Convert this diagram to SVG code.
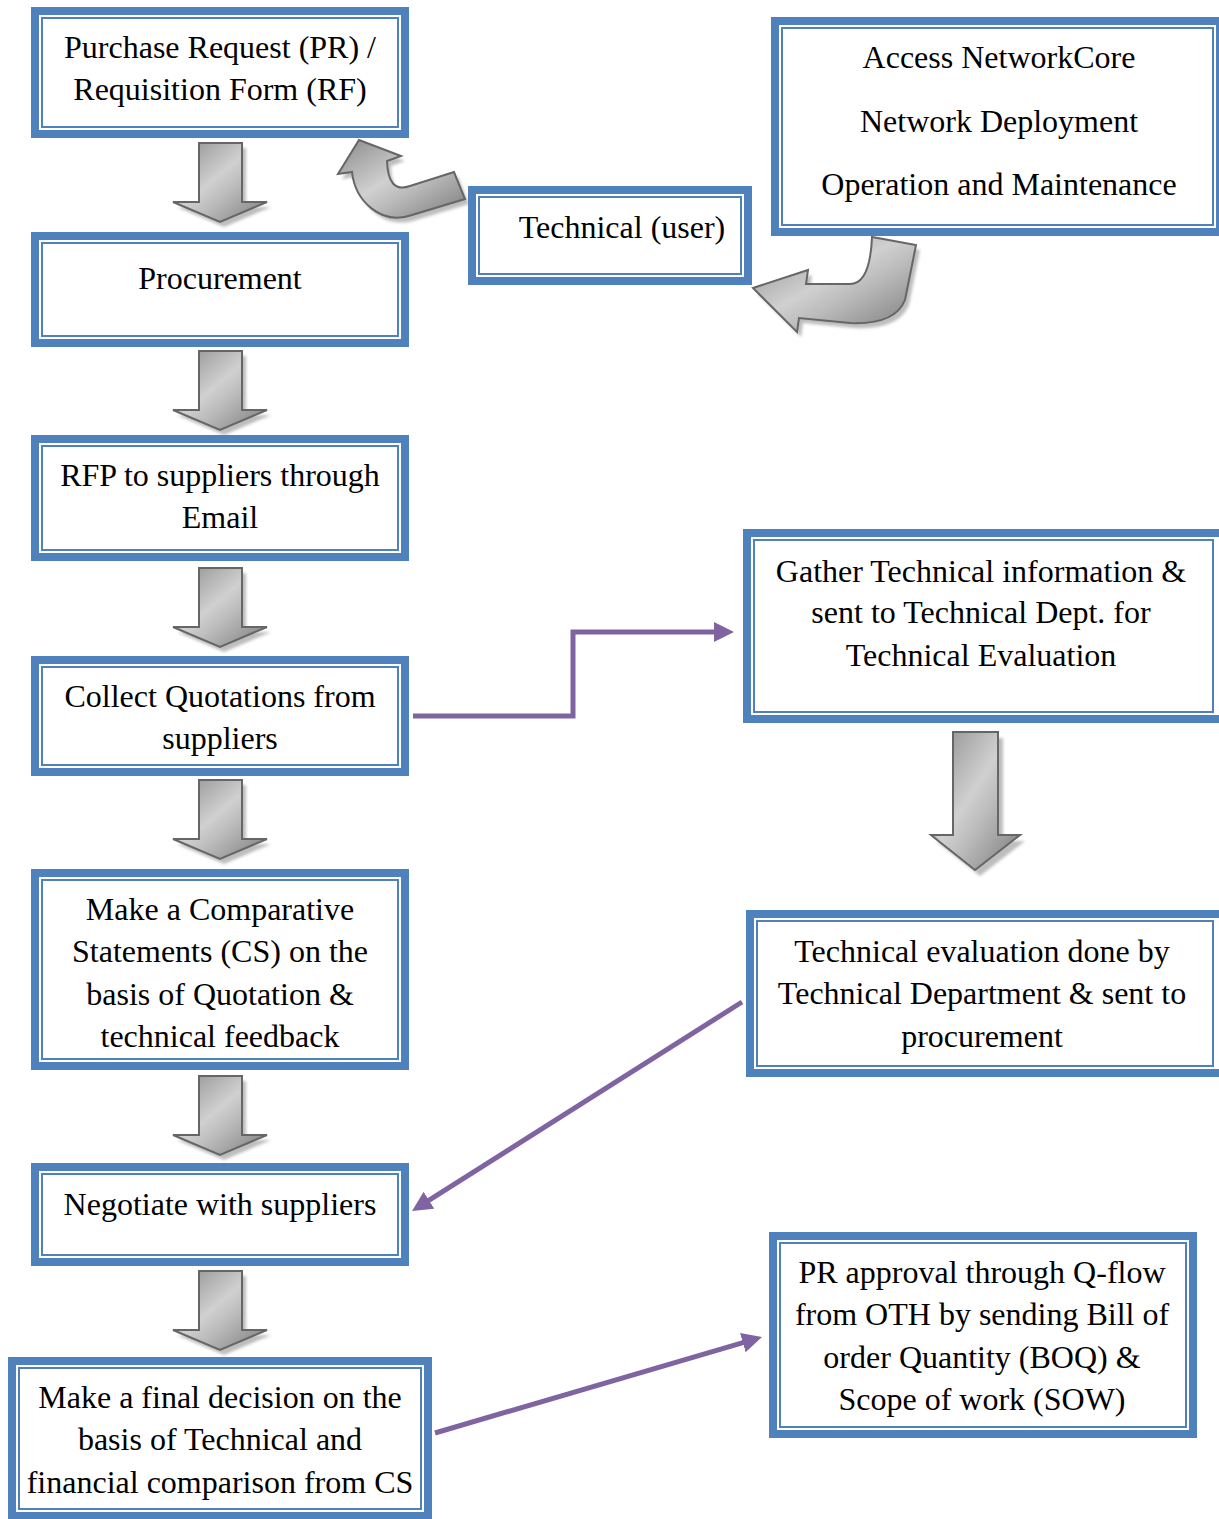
<svg xmlns="http://www.w3.org/2000/svg" width="1219" height="1519" viewBox="0 0 1219 1519">
<style>
.outer{fill:#fff;stroke:#4f81bd;stroke-width:8}
.inner{fill:none;stroke:#4f81bd;stroke-width:2}
.t{font-family:"Liberation Serif","Times New Roman",serif;font-size:32px;fill:#000;text-anchor:middle}
.blk{fill:url(#gg);stroke:#666;stroke-width:2;stroke-linejoin:miter}
.shd{fill:#bdbdbd;filter:url(#blur)}
.con{fill:none;stroke:#8064a2;stroke-width:5}
</style>
<defs>
<linearGradient id="gg" x1="0" y1="0" x2="1" y2="1">
<stop offset="0" stop-color="#8a8a8a"/>
<stop offset="0.45" stop-color="#d0d0d0"/>
<stop offset="0.6" stop-color="#bcbcbc"/>
<stop offset="1" stop-color="#7a7a7a"/>
</linearGradient>
<filter id="blur" x="-20%" y="-20%" width="140%" height="140%"><feGaussianBlur stdDeviation="1.5"/></filter>
<path id="dn" d="M199,0 H242 V59 H267 L220,79 L173,59 H199 Z"/>
<marker id="ah" viewBox="0 0 4 4" markerWidth="4" markerHeight="4" refX="2" refY="2" orient="auto">
<path d="M0,0 L4,2 L0,4 Z" fill="#8064a2"/>
</marker>
</defs>

<g id="block-arrows">
<g transform="translate(0,143)"><use href="#dn" class="shd" transform="translate(4,5)"/><use href="#dn" class="blk"/></g>
<g transform="translate(0,351)"><use href="#dn" class="shd" transform="translate(4,5)"/><use href="#dn" class="blk"/></g>
<g transform="translate(0,568)"><use href="#dn" class="shd" transform="translate(4,5)"/><use href="#dn" class="blk"/></g>
<g transform="translate(0,780)"><use href="#dn" class="shd" transform="translate(4,5)"/><use href="#dn" class="blk"/></g>
<g transform="translate(0,1076)"><use href="#dn" class="shd" transform="translate(4,5)"/><use href="#dn" class="blk"/></g>
<g transform="translate(0,1271)"><use href="#dn" class="shd" transform="translate(4,5)"/><use href="#dn" class="blk"/></g>
<path class="shd" transform="translate(5,6)" d="M953,732 H998 V835 H1020 L975,870 L931,835 H953 Z"/>
<path class="blk" d="M953,732 H998 V835 H1020 L975,870 L931,835 H953 Z"/>
<path class="shd" transform="translate(4,5)" d="M359,140 L401,156 L387,161 Q388,194 410,186 L454,172 L465,199 L412,215 C380,226 355,200 352,172 L338,174 Z"/>
<path class="blk" d="M359,140 L401,156 L387,161 Q388,194 410,186 L454,172 L465,199 L412,215 C380,226 355,200 352,172 L338,174 Z"/>
<path class="shd" transform="translate(4,5)" d="M753,288 L808,270 L806,284 L850,284 Q870,284 872,237 L916,245 L905,300 Q895,325 850,323 L799,318 L797,332 Z"/>
<path class="blk" d="M753,288 L808,270 L806,284 L850,284 Q870,284 872,237 L916,245 L905,300 Q895,325 850,323 L799,318 L797,332 Z"/>
</g>

<g id="connectors">
<polyline class="con" points="413,716 573,716 573,632 724,632" marker-end="url(#ah)"/>
<line class="con" x1="742" y1="1002" x2="420.5" y2="1205.6" marker-end="url(#ah)"/>
<line class="con" x1="435" y1="1433" x2="752.4" y2="1339.8" marker-end="url(#ah)"/>
</g>

<g id="n-pr"><rect class="outer" x="35" y="11" width="370" height="123"/><rect class="inner" x="42" y="18" width="356" height="109"/>
<text class="t" x="220" y="58">Purchase Request (PR) /</text><text class="t" x="220" y="100">Requisition Form (RF)</text></g>

<g id="n-procurement"><rect class="outer" x="35" y="236" width="370" height="107"/><rect class="inner" x="42" y="243" width="356" height="93"/>
<text class="t" x="220" y="289">Procurement</text></g>

<g id="n-rfp"><rect class="outer" x="35" y="439" width="370" height="118"/><rect class="inner" x="42" y="446" width="356" height="104"/>
<text class="t" x="220" y="486">RFP to suppliers through</text><text class="t" x="220" y="528">Email</text></g>

<g id="n-collect"><rect class="outer" x="35" y="660" width="370" height="112"/><rect class="inner" x="42" y="667" width="356" height="98"/>
<text class="t" x="220" y="707">Collect Quotations from</text><text class="t" x="220" y="749">suppliers</text></g>

<g id="n-cs"><rect class="outer" x="35" y="873" width="370" height="193"/><rect class="inner" x="42" y="880" width="356" height="179"/>
<text class="t" x="220" y="920">Make a Comparative</text><text class="t" x="220" y="962">Statements (CS) on the</text><text class="t" x="220" y="1005">basis of Quotation &amp;</text><text class="t" x="220" y="1047">technical feedback</text></g>

<g id="n-negotiate"><rect class="outer" x="35" y="1167" width="370" height="95"/><rect class="inner" x="42" y="1174" width="356" height="81"/>
<text class="t" x="220" y="1215">Negotiate with suppliers</text></g>

<g id="n-final"><rect class="outer" x="12" y="1361" width="416" height="155"/><rect class="inner" x="19" y="1368" width="402" height="141"/>
<text class="t" x="220" y="1408">Make a final decision on the</text><text class="t" x="220" y="1450">basis of Technical and</text><text class="t" x="220" y="1493">financial comparison from CS</text></g>

<g id="n-access"><rect class="outer" x="775" y="21" width="445" height="211"/><rect class="inner" x="782" y="28" width="431" height="197"/>
<text class="t" x="999" y="68">Access NetworkCore</text><text class="t" x="999" y="132">Network Deployment</text><text class="t" x="999" y="195">Operation and Maintenance</text></g>

<g id="n-tech-user"><rect class="outer" x="472" y="190" width="276" height="91"/><rect class="inner" x="479" y="197" width="262" height="77"/>
<text class="t" x="622" y="238">Technical (user)</text></g>

<g id="n-gather"><rect class="outer" x="747" y="533" width="476" height="186"/><rect class="inner" x="754" y="540" width="459" height="172"/>
<text class="t" x="981" y="582">Gather Technical information &amp;</text><text class="t" x="981" y="623">sent to Technical Dept. for</text><text class="t" x="981" y="666">Technical Evaluation</text></g>

<g id="n-tech-eval"><rect class="outer" x="750" y="914" width="473" height="159"/><rect class="inner" x="757" y="921" width="456" height="145"/>
<text class="t" x="982" y="962">Technical evaluation done by</text><text class="t" x="982" y="1004">Technical Department &amp; sent to</text><text class="t" x="982" y="1047">procurement</text></g>

<g id="n-pr-approval"><rect class="outer" x="773" y="1236" width="420" height="198"/><rect class="inner" x="780" y="1243" width="406" height="184"/>
<text class="t" x="982" y="1283">PR approval through Q-flow</text><text class="t" x="982" y="1325">from OTH by sending Bill of</text><text class="t" x="982" y="1368">order Quantity (BOQ) &amp;</text><text class="t" x="982" y="1410">Scope of work (SOW)</text></g>
</svg>
